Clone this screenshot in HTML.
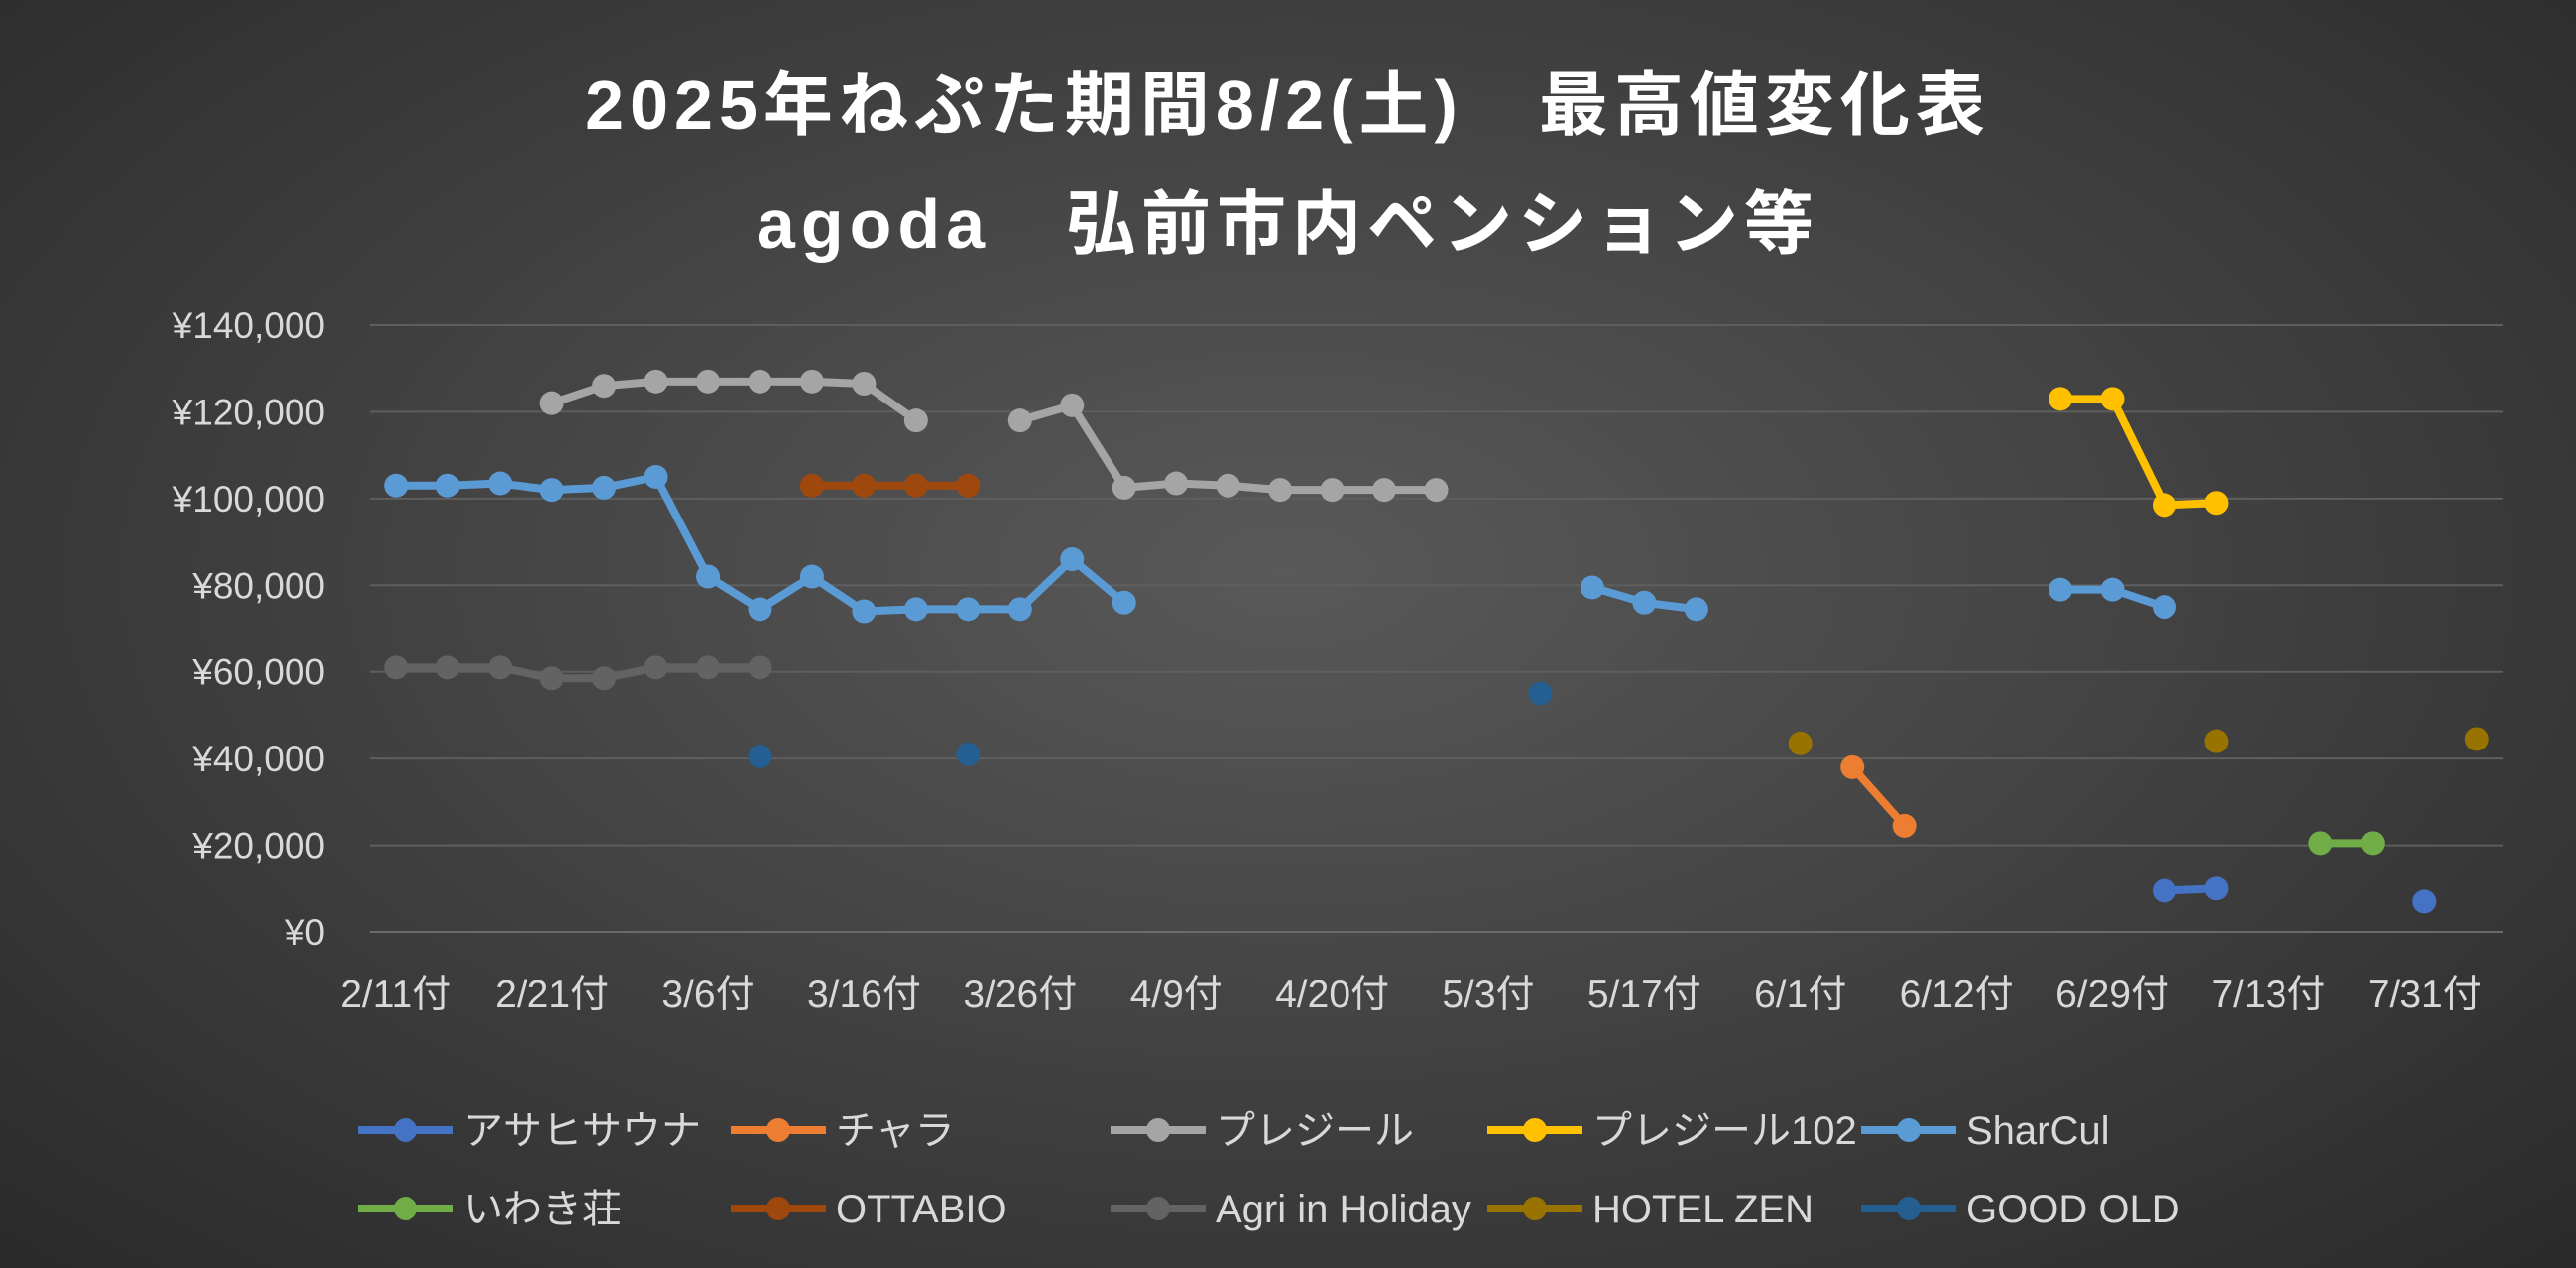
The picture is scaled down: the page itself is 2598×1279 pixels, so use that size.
<!DOCTYPE html>
<html><head><meta charset="utf-8">
<style>
html,body{margin:0;padding:0;}
body{width:2598px;height:1279px;overflow:hidden;background:radial-gradient(ellipse at 50% 45%,#595959 0%,#3f3f3f 55%,#2a2a2a 100%);font-family:"Liberation Sans","Noto Sans CJK JP",sans-serif;}
svg{position:absolute;left:0;top:0;}
</style></head>
<body>
<svg id="chart" width="2598" height="1279" xmlns="http://www.w3.org/2000/svg">
<text x="1299" y="130" text-anchor="middle" fill="#ffffff" font-size="70" font-weight="bold" font-family="Liberation Sans, Noto Sans CJK JP, sans-serif" letter-spacing="6">2025年ねぷた期間8/2(土)　最高値変化表</text>
<text x="1299" y="250" text-anchor="middle" fill="#ffffff" font-size="70" font-weight="bold" font-family="Liberation Sans, Noto Sans CJK JP, sans-serif" letter-spacing="6">agoda　弘前市内ペンション等</text>
<g id="grid"></g><g id="yt"></g><g id="xt"></g><g id="series"></g><g id="legend"></g>
</svg>
<script>
const categories=["2/11付","","","2/21付","","","3/6付","","","3/16付","","","3/26付","","","4/9付","","","4/20付","","","5/3付","","","5/17付","","","6/1付","","","6/12付","","","6/29付","","","7/13付","","","7/31付",""];
const yTicks=[0,20000,40000,60000,80000,100000,120000,140000];
const seriesNames=["アサヒサウナ","チャラ","プレジール","プレジール102","SharCul","いわき荘","OTTABIO","Agri in Holiday","HOTEL ZEN","GOOD OLD"];
const seriesColors=["#4472C4","#ED7D31","#A5A5A5","#FFC000","#5B9BD5","#70AD47","#9E480E","#636363","#997300","#255E91"];
const N=41;
function empty(){return new Array(N).fill(null);}
function put(arr,start,vals){vals.forEach((v,i)=>arr[start+i]=v);return arr;}
const asahi=put(put(empty(),34,[9500,10000]),39,[7000]);
const chara=put(empty(),28,[38000,24500]);
const plaisir=put(put(empty(),3,[122000,126000,127000,127000,127000,127000,126500,118000]),12,[118000,121500,102500,103500,103000,102000,102000,102000,102000]);
const plaisir102=put(empty(),32,[123000,123000,98500,99000]);
const sharcul=put(put(put(empty(),0,[103000,103000,103500,102000,102500,105000,82000,74500,82000,74000,74500,74500,74500,86000,76000]),23,[79500,76000,74500]),32,[79000,79000,75000]);
const iwaki=put(empty(),37,[20500,20500]);
const ottabio=put(empty(),8,[103000,103000,103000,103000]);
const agri=put(empty(),0,[61000,61000,61000,58500,58500,61000,61000,61000]);
const hotelzen=put(put(put(empty(),27,[43500]),35,[44000]),40,[44500]);
const goodold=put(put(put(empty(),7,[40500]),11,[41000]),22,[55000]);
const seriesData=[asahi,chara,plaisir,plaisir102,sharcul,iwaki,ottabio,agri,hotelzen,goodold];

const NS="http://www.w3.org/2000/svg";
const L=373,R=2524,T=328,B=940,YMAX=140000;
const bw=(R-L)/N;
const xs=i=>L+bw*(i+0.5);
const ys=v=>B-(v/YMAX)*(B-T);
function mk(t,a,p){const e=document.createElementNS(NS,t);for(const k in a)e.setAttribute(k,a[k]);p.appendChild(e);return e;}
const grid=document.getElementById('grid'),yt=document.getElementById('yt'),xt=document.getElementById('xt'),sg=document.getElementById('series'),lg=document.getElementById('legend');
yTicks.forEach(v=>{
  const l=mk('line',{x1:L,x2:R,y1:ys(v),y2:ys(v),stroke:v===0?'#6a6a6a':'#5e5e5e','stroke-width':2},grid);
  
  
  const t=mk('text',{x:328,y:ys(v)+13,'text-anchor':'end',fill:'#d9d9d9','font-size':37},yt);
  
  
  t.textContent='¥'+v.toLocaleString('en-US');
});
categories.forEach((c,i)=>{
  if(!c)return;
  const t=mk('text',{x:xs(i),y:1016,'text-anchor':'middle',fill:'#d9d9d9','font-size':39},xt);
  
  
  t.textContent=c;
});
seriesData.forEach((arr,s)=>{
  const g=mk('g',{},sg);
  
  
  for(let i=0;i<N-1;i++){
    if(arr[i]!=null&&arr[i+1]!=null){
      const l=mk('line',{x1:xs(i),y1:ys(arr[i]),x2:xs(i+1),y2:ys(arr[i+1]),stroke:seriesColors[s],'stroke-width':8,'stroke-linecap':'round'},g);
      
      
    }
  }
  arr.forEach((v,i)=>{
    if(v==null)return;
    const c=mk('circle',{cx:xs(i),cy:ys(v),r:12,fill:seriesColors[s]},g);
    
    
  });
});
const legX=[361,737,1120,1500,1877];
seriesNames.forEach((n,s)=>{
  const x=legX[s%5],y=s<5?1140:1219;
  const g=mk('g',{},lg);
  
  
  mk('line',{x1:x,x2:x+96,y1:y,y2:y,stroke:seriesColors[s],'stroke-width':8},g);
  mk('circle',{cx:x+48,cy:y,r:12,fill:seriesColors[s]},g);
  const t=mk('text',{x:x+106,y:y+14,fill:'#d9d9d9','font-size':40},g);
  t.textContent=n;
});
</script>
</body></html>
